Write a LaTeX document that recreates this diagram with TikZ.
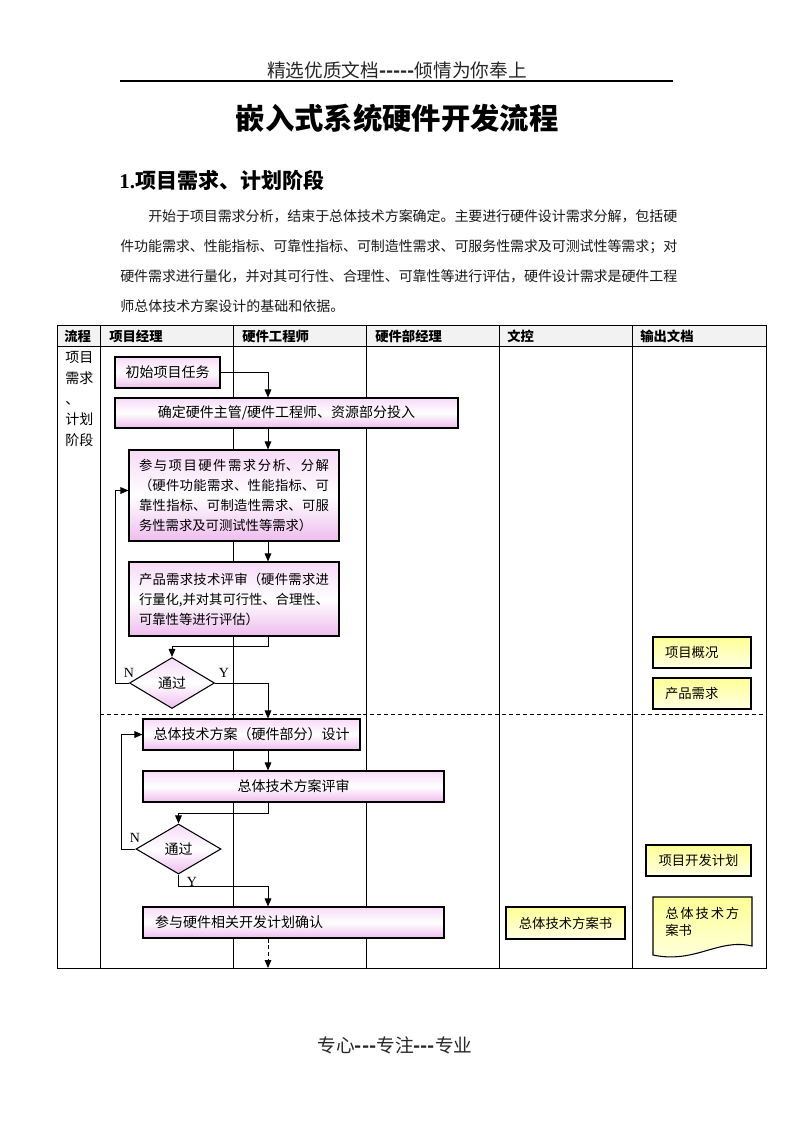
\documentclass[tikz,border=0pt]{standalone}
\usepackage{fontspec}
\setmainfont{Noto Sans CJK SC}
\newfontfamily\tnr{Liberation Serif}
\usetikzlibrary{arrows.meta,shapes.geometric,calc}
\XeTeXlinebreaklocale "zh"
\XeTeXlinebreakskip=0pt plus 3pt minus 0.4pt
\definecolor{pktop}{RGB}{247,218,247}
\definecolor{pkbot}{RGB}{238,188,238}
\definecolor{yltop}{RGB}{255,255,150}
\definecolor{ylbot}{RGB}{255,255,228}
\definecolor{hdrgray}{RGB}{242,242,242}
\tikzset{
  every node/.style={inner sep=0pt, font=\fontsize{10.5pt}{15pt}\selectfont},
  sz/.style 2 args={minimum width=#1*0.75pt, minimum height=#2*0.75pt},
  pbox/.style={draw, line width=0.8pt, top color=pktop, bottom color=pkbot, middle color=white},
  ybox/.style={draw, line width=0.8pt, top color=yltop, bottom color=ylbot, font=\fontsize{10pt}{13pt}\selectfont},
  dia/.style={diamond, draw, line width=0.8pt, top color=pktop, bottom color=pkbot, middle color=white, shape aspect=1.67},
  arr/.style={-{Triangle[length=6pt,width=5pt]}, line width=0.75pt},
  grid/.style={line width=0.75pt},
  hdtxt/.style={anchor=west, font=\fontsize{10pt}{12pt}\selectfont\bfseries},
  lbl/.style={font=\fontsize{10.5pt}{12pt}\selectfont\tnr},
}
\begin{document}
\begin{tikzpicture}[x=0.75pt,y=-0.75pt]
\useasboundingbox (0,0) rectangle (793,1122);
% page header
\node[font=\fontsize{14pt}{16pt}\selectfont, text=black!85] (hd) at (397,70)
  {精选优质文档\textbf{-\kern0pt-\kern0pt-\kern0pt-\kern0pt-}倾情为你奉上};
\draw[line width=0.8pt] (120,81) -- (673,81);
\node[font=\fontsize{22pt}{26pt}\selectfont\bfseries] (title) at (397,118) {嵌入式系统硬件开发流程};
\node[anchor=west, font=\fontsize{15.75pt}{18pt}\selectfont\bfseries] (sec) at (119,180) {{\tnr 1.}项目需求、计划阶段};
\node[anchor=north west, text width=417.75pt, align=justify,
      font=\fontsize{10.5pt}{22.5pt}\selectfont, text=black!90] (para) at (120,209)
  {\hspace*{21pt}开始于项目需求分析，结束于总体技术方案确定。主要进行硬件设计需求分解，包括硬\linebreak
   件功能需求、性能指标、可靠性指标、可制造性需求、可服务性需求及可测试性等需求；对\linebreak
   硬件需求进行量化，并对其可行性、合理性、可靠性等进行评估，硬件设计需求是硬件工程\linebreak
   师总体技术方案设计的基础和依据。};
% table
\fill[hdrgray] (57,325) rectangle (766,346);
\draw[grid] (57,325) rectangle (766,968);
\draw[grid] (57,346) -- (766,346);
\foreach \xx in {100,233,366,499,632} {\draw[grid] (\xx,325) -- (\xx,968);}
\draw[grid, dash pattern=on 3pt off 2.2pt] (100,714) -- (766,714);
\coordinate (tb) at (0,968);
\coordinate (cx) at (268,0);
\node[hdtxt] (h1) at (64,336) {流程};
\node[hdtxt] (h2) at (109,336) {项目经理};
\node[hdtxt] (h3) at (242,336) {硬件工程师};
\node[hdtxt] (h4) at (375,336) {硬件部经理};
\node[hdtxt] (h5) at (507,336) {文控};
\node[hdtxt] (h6) at (640,336) {输出文档};
\node[anchor=north west, align=left, font=\fontsize{10.5pt}{15.6pt}\selectfont] (phase) at (65,351)
  {项目\\需求\\、\\计划\\阶段};
% process boxes
\node[pbox, sz={105}{31}] (b1) at (167.5,372.5) {初始项目任务};
\node[pbox, sz={343}{30}] (b2) at (286.5,413) {确定硬件主管/硬件工程师、资源部分投入};
\node[pbox, sz={210}{91}, text width=142.5pt, align=justify, font=\fontsize{10pt}{15pt}\selectfont] (b3) at (234,495.5)
  {参与项目硬件需求分析、分解\linebreak （硬件功能需求、性能指标、可\linebreak 靠性指标、可制造性需求、可服\linebreak 务性需求及可测试性等需求）};
\node[pbox, sz={210}{74}, text width=142.5pt, align=justify, font=\fontsize{10pt}{15pt}\selectfont] (b4) at (234,599)
  {产品需求技术评审（硬件需求进\linebreak 行量化,并对其可行性、合理性、\linebreak 可靠性等进行评估）};
\node[dia, sz={85}{51}] (d1) at (172,683) {通过};
\node[pbox, sz={217}{31}] (b6) at (251.5,734.5) {总体技术方案（硬件部分）设计};
\node[pbox, sz={301}{31}] (b7) at (293.5,786.5) {总体技术方案评审};
\node[dia, sz={85}{50}] (d2) at (178.5,849) {通过};
\node[pbox, sz={301}{31}, text width=207.75pt, align=left] (b9) at (293.5,922.5) {参与硬件相关开发计划确认};
% labels
\node[lbl] (n1) at (129,673) {N};
\node[lbl] (y1) at (224,673) {Y};
\node[lbl] (n2) at (135,838) {N};
\node[lbl] (y2) at (192,882) {Y};
% output documents
\node[ybox, sz={98}{31}, text width=55.5pt, align=left] (o1) at (702,652.5) {项目概况};
\node[ybox, sz={98}{31}, text width=55.5pt, align=left] (o2) at (702,693.5) {产品需求};
\node[ybox, sz={105}{31}] (o3) at (698.5,860.5) {项目开发计划};
\node[ybox, sz={119}{32}] (o4) at (565.5,923) {总体技术方案书};
\shade[draw, line width=0.8pt, top color=yltop, bottom color=ylbot]
  (653,897) -- (752,897) -- (752,946) .. controls (718,938) and (695,964) .. (653,955) -- cycle;
\node[anchor=north west, text width=55.5pt, align=justify, font=\fontsize{10pt}{12.75pt}\selectfont] (o5) at (665,906.5)
  {总体技术方\linebreak 案书};
% connectors
\draw[arr] (b1.east) -| (cx |- b2.north);
\draw[arr] (cx |- b2.south) -- (cx |- b3.north);
\draw[arr] (cx |- b3.south) -- (cx |- b4.north);
\draw[arr] (cx |- b4.south) -- ++(0,10) -| (d1.north);
\draw[arr] (d1.west) -| ($(b3.west)+(-13,-5)$) -- ($(b3.west)+(0,-5)$);
\draw[arr] (d1.east) -| (cx |- b6.north);
\draw[arr] (cx |- b6.south) -- (cx |- b7.north);
\draw[arr] (cx |- b7.south) -- ++(0,11) -| (d2.north);
\draw[arr] (d2.west) -| ($(b6.west)+(-21,0)$) -- (b6.west);
\draw[arr] (d2.south) -- ++(0,12) -| (cx |- b9.north);
\draw[arr, dash pattern=on 3pt off 2pt] (cx |- b9.south) -- (cx |- tb);
% footer
\node[font=\fontsize{14pt}{16pt}\selectfont, text=black!85] (ft) at (395,1045)
  {专心\textbf{-\kern0pt-\kern0pt-}专注\textbf{-\kern0pt-\kern0pt-}专业};
\end{tikzpicture}
\end{document}
